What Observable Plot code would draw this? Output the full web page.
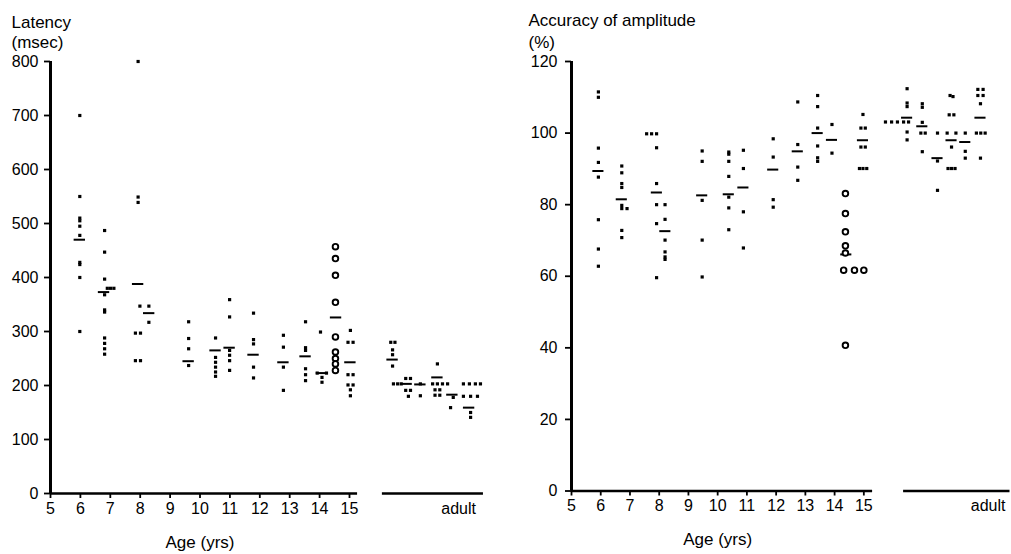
<!DOCTYPE html>
<html>
<head>
<meta charset="utf-8">
<script src="https://cdn.jsdelivr.net/npm/d3@7"></script>
<script src="https://cdn.jsdelivr.net/npm/@observablehq/plot@0.6"></script>
<style>
  html, body { margin: 0; padding: 0; background: #fff; }
  #wrap { position: relative; width: 1011px; height: 554px; overflow: hidden; }
  #left, #right { position: absolute; top: 0; }
  #left { left: 0; }
  #right { left: 505px; }
</style>
</head>
<body>
<div id="wrap"><div id="left"></div><div id="right"></div></div>
<script>
// ---------- data ----------
const ageTicks = [5, 6, 7, 8, 9, 10, 11, 12, 13, 14, 15];
const latencyTicks = [0, 100, 200, 300, 400, 500, 600, 700, 800];
const accuracyTicks = [0, 20, 40, 60, 80, 100, 120];

// [age position, latency msec] — filled points
const latencyPoints = [
  [5.98,700],[5.98,550],[5.98,510],[5.98,505],[5.98,495],[5.98,478],[5.98,428],[5.98,424],[5.98,400],[5.98,300],
  [6.81,487],[6.81,447],[6.81,397],[6.9,380],[7.01,380],[7.12,380],[6.81,368],[6.81,340],[6.81,336],[6.81,288],[6.81,278],[6.81,268],[6.81,258],
  [7.93,800],[7.93,549],[7.93,539],[7.84,297],[8.01,297],[7.84,246],[8.01,246],
  [7.99,347],[8.29,347],[8.29,317],
  [9.62,318],[9.62,287],[9.62,268],[9.62,237],
  [10.52,288],[10.52,252],[10.52,243],[10.52,234],[10.52,225],[10.52,217],
  [10.99,359],[10.99,327],[10.99,265],[10.99,256],[10.99,246],[10.99,228],
  [11.79,334],[11.79,285],[11.79,277],[11.79,234],[11.79,214],
  [12.79,293],[12.79,271],[12.79,234],[12.79,191],
  [13.53,318],[13.53,270],[13.53,265],[13.53,231],[13.53,220],[13.53,209],
  [14.03,299],[13.92,223],[14.23,223],[14.08,215],[14.08,206],
  [15.03,302],[14.95,280],[15.12,280],[14.95,220],[15.12,220],[14.95,201],[15.12,201],[15.03,192],[15.03,181],
  [16.38,280],[16.52,280],[16.44,266],[16.44,257],[16.44,236],
  [16.47,203],[16.61,203],[16.73,203],[16.88,213],[17.04,213],[16.88,191],[17.04,191],[16.97,180],
  [17.37,203],[17.37,181],
  [17.94,240],[17.78,203],[17.94,203],[18.11,203],[18.28,203],[17.86,192],[18.02,192],[17.86,182],[18.02,182],
  [18.47,178],[18.38,159],
  [18.81,203],[19.01,203],[19.21,203],[19.38,203],[18.81,180],[19.05,180],[19.28,180],[19.05,150],[19.05,141]
];
// open-circle group (latency)
const latencyOpen = [
  [14.53,457],[14.53,435],[14.53,404],[14.53,354],[14.53,290],[14.53,262],[14.53,250],[14.53,240],[14.53,228]
];
// group means (latency)
const latencyMeans = [
  [5.98,470],[6.79,373],[7.93,388],[8.3,334],[9.62,245],[10.52,265],[10.99,270],[11.79,257],[12.79,243],
  [13.53,254],[14.08,223],[14.55,326],[15.03,243],
  [16.44,248],[16.91,203],[17.37,202],[17.94,215],[18.44,183],[19.0,159]
];

// [age position, accuracy %] — filled points
const accuracyPoints = [
  [5.92,111.5],[5.92,110],[5.92,95.8],[5.92,91.8],[5.92,87.7],[5.92,75.8],[5.92,67.6],[5.92,62.8],
  [6.72,90.8],[6.72,88.9],[6.72,85.9],[6.72,84.8],[6.72,79.8],[6.72,78.9],[6.9,78.9],[6.72,72.8],[6.72,70.8],
  [7.57,99.8],[7.74,99.8],[7.91,99.8],[7.91,95.9],[7.91,85.9],[7.91,80.0],[7.91,74.7],[7.91,59.6],
  [8.2,80.0],[8.2,75.9],[8.2,70.1],[8.2,66.8],[8.2,65.4],[8.2,64.7],
  [9.47,95.0],[9.47,92.1],[9.47,81.2],[9.47,70.1],[9.47,59.8],
  [10.38,94.7],[10.38,94.1],[10.38,92.1],[10.38,87.9],[10.38,82.1],[10.38,79.1],[10.38,73.0],
  [10.88,95.2],[10.88,90.1],[10.88,78.0],[10.88,67.9],
  [11.9,98.4],[11.9,93.3],[11.9,81.4],[11.9,79.3],
  [12.74,108.7],[12.74,96.8],[12.74,90.5],[12.74,86.8],
  [13.42,110.5],[13.42,107.4],[13.42,101.4],[13.42,96.4],[13.42,93.1],[13.42,92.1],
  [13.91,102.4],[13.91,94.4],
  [14.97,105.2],[14.9,101.4],[15.05,101.4],[14.9,96.1],[15.05,96.1],[14.85,90.1],[14.97,90.1],[15.1,90.1],
  [16.48,112.4],[16.48,108.4],[16.48,107.4],[15.74,103.1],[15.95,103.1],[16.15,103.1],[16.36,103.1],[16.53,103.1],[16.48,100.3],[16.48,98.1],
  [17.0,108.2],[17.0,107.2],[17.0,103.0],[16.95,100],[17.1,100],[17.0,94.8],
  [17.52,100],[17.52,92.2],[17.52,84.0],
  [17.95,110.5],[18.05,110.2],[17.92,105.1],[18.08,105.1],[17.85,100],[18.15,100],[18.0,96.1],[17.88,90.1],[18.0,90.1],[18.12,90.1],
  [18.47,100],[18.47,94.9],[18.47,93.0],
  [18.9,112.2],[19.08,112.2],[18.9,110.5],[19.08,110.5],[18.99,108.2],[18.85,100],[19.0,100],[19.15,100],[18.99,93.0]
];
const accuracyOpen = [
  [14.37,83.1],[14.37,77.5],[14.37,72.4],[14.37,68.5],[14.37,66.5],[14.31,61.7],[14.68,61.7],[15.0,61.7],[14.37,40.7]
];
const accuracyMeans = [
  [5.92,89.4],[6.72,81.5],[7.92,83.4],[8.21,72.6],[9.47,82.6],[10.38,82.9],[10.88,84.8],[11.9,89.8],[12.74,94.9],
  [13.42,100.0],[13.91,98.1],[14.4,66.1],[14.97,98.0],
  [16.48,104.3],[17.0,101.9],[17.52,93.0],[18.0,98.0],[18.47,97.5],[18.99,104.3]
];

// ---------- drawing ----------
const FONT = "'Liberation Sans', Arial, Helvetica, sans-serif";

function panel({points, open, means, yTicks, yMax, title, titleDx, titleDy, titleLH, yPad,
                width, marginLeft, marginRight, marginBottom, axisEnd, adultStart, adultEnd, adultLabelAt}) {
  return Plot.plot({
    width, height: 554,
    marginTop: 61, marginBottom, marginLeft, marginRight,
    style: {fontFamily: FONT, fontSize: "16px", color: "#000", background: "#fff", overflow: "visible"},
    x: {domain: [5, 20], axis: null},
    y: {domain: [0, yMax], axis: null},
    marks: [
      Plot.axisY({ticks: yTicks, tickSize: 6, tickPadding: yPad, strokeWidth: 1.8, fontSize: 16, label: null}),
      Plot.axisX({ticks: ageTicks, tickSize: 5, tickPadding: 4, strokeWidth: 1.8, fontSize: 16, label: null, tickFormat: d => String(d)}),
      Plot.ruleX([5], {y1: 0, y2: yMax, strokeWidth: 3}),
      Plot.ruleY([0], {x1: 5, x2: axisEnd, strokeWidth: 2.5}),
      Plot.ruleY([0], {x1: adultStart, x2: adultEnd, strokeWidth: 2.5}),
      Plot.text(["adult"], {x: () => adultLabelAt, y: () => 0, dy: 9, lineAnchor: "top", fontSize: 16}),
      Plot.text(["Age (yrs)"], {x: () => 10, y: () => 0, dy: 42, lineAnchor: "top", fontSize: 17}),
      Plot.text([title], {frameAnchor: "top-left", textAnchor: "start", lineAnchor: "top",
                          dx: titleDx, dy: titleDy, fontSize: 17, lineHeight: titleLH}),
      Plot.ruleY(means, {y: d => d[1], x1: d => d[0] - 0.19, x2: d => d[0] + 0.19, strokeWidth: 2}),
      Plot.dot(points, {x: d => d[0], y: d => d[1], r: 1.8, symbol: "square", fill: "#000", stroke: "none"}),
      Plot.dot(open, {x: d => d[0], y: d => d[1], r: 2.8, fill: "#fff", stroke: "#000", strokeWidth: 1.9})
    ]
  });
}

document.getElementById("left").appendChild(panel({
  points: latencyPoints, open: latencyOpen, means: latencyMeans,
  yTicks: latencyTicks, yMax: 800, title: "Latency\n(msec)", titleDx: -39, titleDy: -48, titleLH: 1.2, yPad: 6,
  width: 505, marginLeft: 50, marginRight: 6.5, marginBottom: 61,
  axisEnd: 15.27, adultStart: 16.1, adultEnd: 19.48, adultLabelAt: 18.65
}));

document.getElementById("right").appendChild(panel({
  points: accuracyPoints, open: accuracyOpen, means: accuracyMeans,
  yTicks: accuracyTicks, yMax: 120, title: "Accuracy of amplitude\n(%)", titleDx: -43, titleDy: -51, titleLH: 1.28, yPad: 8,
  width: 506, marginLeft: 66, marginRight: 1.5, marginBottom: 63.5,
  axisEnd: 15.3, adultStart: 16.36, adultEnd: 20, adultLabelAt: 19.25
}));
</script>
</body>
</html>
